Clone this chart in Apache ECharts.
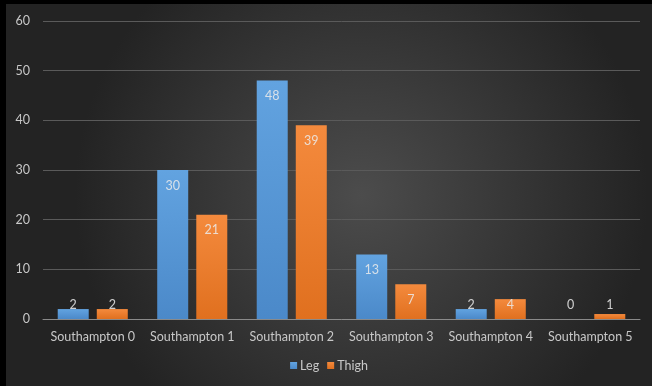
<!DOCTYPE html>
<html>
<head>
<meta charset="utf-8">
<script src="https://cdn.jsdelivr.net/npm/echarts@6/dist/echarts.min.js"></script>
<style>
  html, body { margin: 0; padding: 0; background: #000; }
  #chart {
    position: absolute;
    left: 6px;
    top: 4px;
    width: 646px;
    height: 382px;
  }
</style>
</head>
<body>
<div id="chart"></div>
<script>
const categories = ['Southampton 0', 'Southampton 1', 'Southampton 2', 'Southampton 3', 'Southampton 4', 'Southampton 5']
const legValues = [2, 30, 48, 13, 2, 0]
const thighValues = [2, 21, 39, 7, 4, 1]
const yTicks = { min: 0, max: 60, interval: 10 }

const chart = echarts.init(document.getElementById('chart'))

function gradient(top, bottom) {
  return new echarts.graphic.LinearGradient(0, 0, 0, 1, [
    { offset: 0, color: top },
    { offset: 1, color: bottom }
  ])
}

// short bars get their label sitting just above the axis, tall ones inside the top
function labelled(values) {
  return values.map(v => ({
    value: v,
    label: v < 5
      ? { position: 'insideBottom', distance: 8 }
      : { position: 'insideTop', distance: 9 }
  }))
}

const labelStyle = {
  show: true,
  color: 'rgba(235,235,235,0.85)',
  fontFamily: 'Lato',
  fontSize: 12.5
}

const option = {
  backgroundColor: new echarts.graphic.RadialGradient(0.55, 0.5, 0.75, [
    { offset: 0, color: '#4c4c4c' },
    { offset: 1, color: '#232323' }
  ]),
  animation: false,
  textStyle: { fontFamily: 'Lato' },
  grid: {
    left: 37,
    right: 12,
    top: 17,
    bottom: 67
  },
  legend: {
    bottom: 9,
    left: 'center',
    itemWidth: 7,
    itemHeight: 7,
    itemGap: 8,
    icon: 'rect',
    textStyle: { color: '#c8c8c8', fontSize: 12.5, padding: [0, 0, 0, -2] },
    data: ['Leg', 'Thigh']
  },
  xAxis: {
    type: 'category',
    data: categories,
    axisLine: { lineStyle: { color: '#8a8a8a', width: 1 } },
    axisTick: { show: false },
    axisLabel: { color: '#c8c8c8', fontSize: 12.5, margin: 11, interval: 0 }
  },
  yAxis: {
    type: 'value',
    min: yTicks.min,
    max: yTicks.max,
    interval: yTicks.interval,
    axisLine: { show: false },
    axisTick: { show: false },
    axisLabel: { color: '#c8c8c8', fontSize: 12.5, margin: 13 },
    splitLine: { lineStyle: { color: '#5a5a5a', width: 1 } }
  },
  series: [
    {
      name: 'Leg',
      type: 'bar',
      barWidth: 31,
      barGap: '26%',
      data: labelled(legValues),
      itemStyle: { color: gradient('#62a3e0', '#4b89c9') },
      label: labelStyle
    },
    {
      name: 'Thigh',
      type: 'bar',
      barWidth: 31,
      data: labelled(thighValues),
      itemStyle: { color: gradient('#f48a3d', '#e0701f') },
      label: labelStyle
    }
  ]
}

chart.setOption(option)
window.addEventListener('resize', () => chart.resize())
</script>
</body>
</html>
